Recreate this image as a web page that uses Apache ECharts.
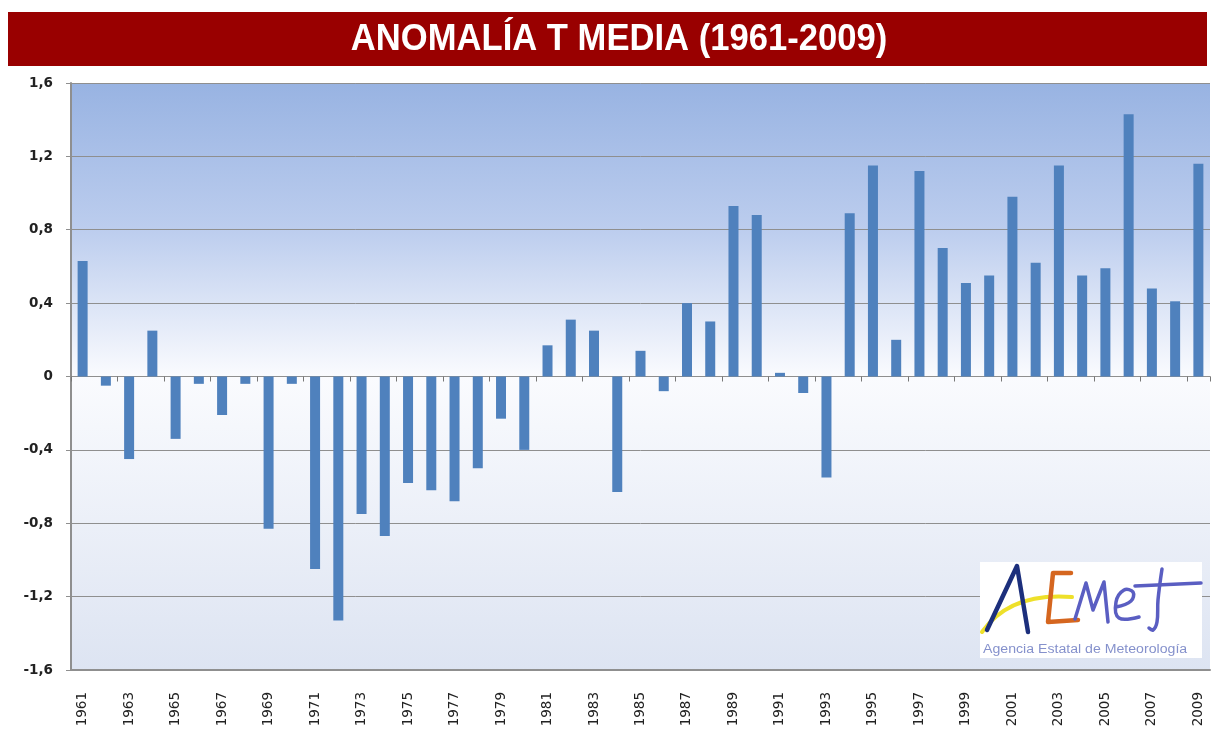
<!DOCTYPE html>
<html>
<head>
<meta charset="utf-8">
<script src="https://cdn.jsdelivr.net/npm/echarts@6/dist/echarts.min.js"></script>
<style>
html,body{margin:0;padding:0;background:#fff;}
#chart{width:1215px;height:734px;}
</style>
</head>
<body>
<div id="chart"></div>
<script>
const titleText = 'ANOMALÍA T MEDIA (1961-2009)';
const years = ['1961','1962','1963','1964','1965','1966','1967','1968','1969','1970',
  '1971','1972','1973','1974','1975','1976','1977','1978','1979','1980',
  '1981','1982','1983','1984','1985','1986','1987','1988','1989','1990',
  '1991','1992','1993','1994','1995','1996','1997','1998','1999','2000',
  '2001','2002','2003','2004','2005','2006','2007','2008','2009'];
const anomalies = [0.63,-0.05,-0.45,0.25,-0.34,-0.04,-0.21,-0.04,-0.83,-0.04,
  -1.05,-1.33,-0.75,-0.87,-0.58,-0.62,-0.68,-0.50,-0.23,-0.40,
  0.17,0.31,0.25,-0.63,0.14,-0.08,0.40,0.30,0.93,0.88,
  0.02,-0.09,-0.55,0.89,1.15,0.20,1.12,0.70,0.51,0.55,
  0.98,0.62,1.15,0.55,0.59,1.43,0.48,0.41,1.16];
const yMin = -1.6, yMax = 1.6, yStep = 0.4;
const logoSubtitle = 'Agencia Estatal de Meteorología';

const chart = echarts.init(document.getElementById('chart'), null, {renderer:'canvas'});
const gridColor = '#8f8f8f';
const fmtY = v => Math.abs(v) < 1e-9 ? '0' : v.toFixed(1).replace('.', ',');
const purple = '#5a5ec2';
const stroke = (c, w) => ({stroke: c, lineWidth: w, fill: null, lineJoin: 'round', lineCap: 'round'});

chart.setOption({
  animation: false,
  backgroundColor: '#ffffff',
  grid: {
    left: 71, right: 5, top: 83, bottom: 64,
    show: true, borderWidth: 0,
    backgroundColor: new echarts.graphic.LinearGradient(0, 0, 0, 1, [
      {offset: 0, color: '#98b3e2'},
      {offset: 0.25, color: '#bccdee'},
      {offset: 0.5, color: '#fafbfe'},
      {offset: 1, color: '#dde4f2'}
    ])
  },
  xAxis: [{
    type: 'category',
    data: years,
    position: 'bottom',
    axisLine: {onZero: false, lineStyle: {color: gridColor, width: 2}},
    axisTick: {show: false},
    axisLabel: {
      interval: 1, rotate: 90, margin: 22,
      fontFamily: 'DejaVu Sans', fontSize: 13.5, color: '#222'
    },
    splitLine: {show: false}
  }, {
    type: 'category',
    data: years,
    position: 'top',
    axisLine: {onZero: true, lineStyle: {color: gridColor, width: 1}},
    axisTick: {show: true, interval: 1, inside: true, length: 5, lineStyle: {color: '#777'}},
    axisLabel: {show: false},
    splitLine: {show: false}
  }],
  yAxis: {
    type: 'value',
    min: yMin, max: yMax, interval: yStep,
    axisLine: {show: true, lineStyle: {color: gridColor, width: 2}},
    axisTick: {show: true, length: 5, lineStyle: {color: gridColor}},
    axisLabel: {
      formatter: fmtY, margin: 18,
      fontFamily: 'DejaVu Sans', fontWeight: 'bold', fontSize: 13.5, color: '#222'
    },
    splitLine: {show: true, lineStyle: {color: gridColor, width: 1}}
  },
  series: [{
    type: 'bar',
    xAxisIndex: 0,
    data: anomalies,
    barWidth: 10,
    itemStyle: {color: '#4f81bd'}
  }],
  graphic: [
    {type: 'rect', x: 8, y: 12, shape: {x: 0, y: 0, width: 1199, height: 54}, style: {fill: '#990000'}, z: 10},
    {type: 'text', x: 619, y: 40, z: 11, scaleX: 0.935, scaleY: 1,
      style: {text: titleText, fill: '#ffffff', font: 'bold 37px "Liberation Sans", Arial, sans-serif',
        textAlign: 'center', textVerticalAlign: 'middle'}},
    // logo
    {type: 'rect', z: 50, shape: {x: 980, y: 562, width: 222, height: 96}, style: {fill: '#ffffff'}},
    {type: 'bezierCurve', z: 51, shape: {x1: 982, y1: 632, cpx1: 1010, cpy1: 592, x2: 1072, y2: 597},
      style: stroke('#eee02a', 4)},
    {type: 'polyline', z: 52, shape: {points: [[987,630],[1017,566],[1028,632]]},
      style: stroke('#1c2f7c', 4.5)},
    {type: 'polyline', z: 52, shape: {points: [[1071,573],[1053,573],[1048,622],[1078,620]]},
      style: stroke('#d5661f', 4.5)},
    {type: 'polyline', z: 52, shape: {points: [[1075,619],[1086,583],[1093,610],[1104,582],[1108,622]]},
      style: stroke(purple, 3.5)},
    {type: 'polyline', z: 52, shape: {smooth: 0.4, points: [[1116,607],[1131,601],[1133,592],[1124,590],[1116,602],[1119,618],[1139,617]]},
      style: stroke(purple, 3.5)},
    {type: 'polyline', z: 52, shape: {smooth: 0.4, points: [[1162,569],[1158,600],[1157,622],[1153,630],[1149,628]]},
      style: stroke(purple, 3.5)},
    {type: 'line', z: 52, shape: {x1: 1135, y1: 586, x2: 1201, y2: 583},
      style: stroke(purple, 3.5)},
    {type: 'text', x: 983, y: 650, z: 52, scaleX: 1.13,
      style: {text: logoSubtitle, fill: '#8591cc', font: '12.5px "Liberation Sans", Arial, sans-serif',
        textVerticalAlign: 'middle'}}
  ]
});
</script>
</body>
</html>
